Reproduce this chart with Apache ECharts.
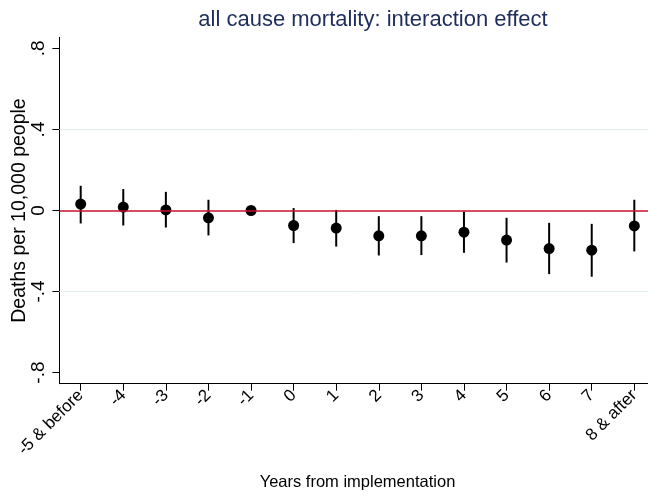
<!DOCTYPE html>
<html><head><meta charset="utf-8">
<script src="https://cdn.jsdelivr.net/npm/echarts@6/dist/echarts.min.js"></script>
<style>html,body{margin:0;padding:0;background:#fff}#c{width:648px;height:495px}</style>
</head><body><div id="c"></div>
<script>
const categories = ['-5 & before','-4','-3','-2','-1','0','1','2','3','4','5','6','7','8 & after'];
const estimates = [0.032,0.017,0.003,-0.036,0,-0.074,-0.087,-0.125,-0.125,-0.107,-0.146,-0.188,-0.196,-0.076];
const ciLower = [-0.064,-0.074,-0.084,-0.123,null,-0.161,-0.178,-0.222,-0.220,-0.209,-0.257,-0.314,-0.327,-0.202];
const ciUpper = [0.122,0.106,0.092,0.053,null,0.012,0.003,-0.028,-0.028,-0.006,-0.036,-0.061,-0.066,0.053];
const yTickValues = [-0.8,-0.4,0,0.4,0.8];
const yTickLabels = ['-.8','-.4','0','.4','.8'];
const gridValues = [-0.4,0.4];
const refValue = 0;

const FONT = '"Liberation Sans", Arial, Helvetica, sans-serif';
const ciData = [];
categories.forEach((c,i)=>{ if(ciLower[i]!==null && ciUpper[i]!==null) ciData.push([i, ciLower[i], ciUpper[i]]); });

const chart = echarts.init(document.getElementById('c'), null, {renderer:'canvas'});
chart.setOption({
  backgroundColor:'#fff',
  animation:false,
  title:{
    text:'all cause mortality: interaction effect',
    left:373, top:9, textAlign:'center', padding:0,
    textStyle:{fontFamily:FONT, fontSize:22, fontWeight:'normal', color:'#1f2d5c'}
  },
  grid:{left:59.4, right:-7.6, top:37.3, bottom:111.3, outerBoundsMode:'none', containLabel:false},
  xAxis:{
    type:'category', data:categories, boundaryGap:true,
    axisLine:{show:true, onZero:false, lineStyle:{color:'#000', width:1}},
    axisTick:{show:true, alignWithLabel:true, length:7, lineStyle:{color:'#000', width:1}},
    axisLabel:{rotate:45, interval:0, margin:9, fontSize:17, color:'#000', fontFamily:FONT},
    splitLine:{show:false},
    name:'Years from implementation', nameLocation:'middle', nameGap:90, nameMoveOverlap:false,
    nameTextStyle:{fontFamily:FONT, fontSize:16.5, color:'#000'}
  },
  yAxis:{
    type:'value', min:-0.855, max:0.855,
    axisLine:{show:true, lineStyle:{color:'#000', width:1}},
    axisTick:{show:true, length:7, customValues:yTickValues, lineStyle:{color:'#000', width:1}},
    axisLabel:{show:true, customValues:yTickValues, rotate:90, margin:11, fontSize:19, color:'#000', fontFamily:FONT,
      formatter:(v)=>{ const k = yTickValues.findIndex(t=>Math.abs(t-v)<1e-9); return k>=0 ? yTickLabels[k] : ''; }},
    splitLine:{show:false},
    name:'Deaths per 10,000 people', nameLocation:'middle', nameGap:30, nameMoveOverlap:false,
    nameTextStyle:{fontFamily:FONT, fontSize:19.5, color:'#000'}
  },
  series:[
    {type:'line', data:[], z:1, silent:true,
     markLine:{silent:true, symbol:['none','none'], label:{show:false}, animation:false,
       data: gridValues.map(v=>({yAxis:v, lineStyle:{color:'#e4edef', width:1, type:'solid'}}))}},
    {type:'line', data:[], z:2, silent:true,
     markLine:{silent:true, symbol:['none','none'], label:{show:false}, animation:false,
       data:[{yAxis:refValue, lineStyle:{color:'#c8102e', width:1.6, type:'solid'}}]}},
    {type:'custom', z:3, data:ciData, encode:{x:0, y:[1,2]},
     renderItem:(params, api)=>{
       const a = api.coord([api.value(0), api.value(1)]);
       const b = api.coord([api.value(0), api.value(2)]);
       return {type:'line', shape:{x1:a[0], y1:a[1], x2:b[0], y2:b[1]}, style:{stroke:'#000', lineWidth:2}};
     }},
    {type:'scatter', z:4, data:estimates, symbol:'circle', symbolSize:11, itemStyle:{color:'#000', opacity:1}}
  ]
});
</script></body></html>
